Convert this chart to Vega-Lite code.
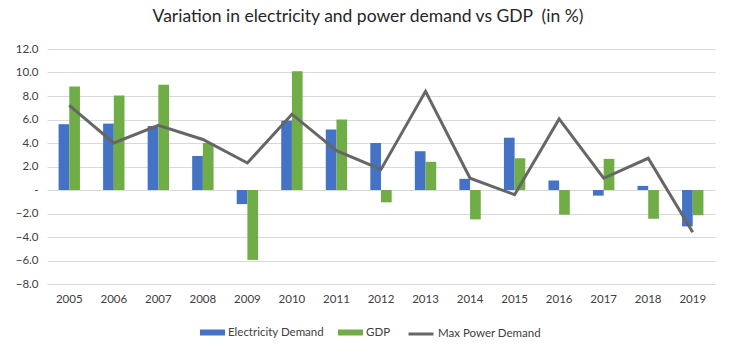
{
  "$schema": "https://vega.github.io/schema/vega-lite/v6.json",
  "width": 668,
  "height": 235,
  "autosize": {"type": "none"},
  "padding": {"left": 47, "top": 49, "right": 15, "bottom": 62},
  "background": "white",
  "title": {
    "text": "Variation in electricity and power demand vs GDP\u00a0 (in %)",
    "font": "Lato",
    "fontSize": 17.5,
    "fontWeight": "normal",
    "color": "#262626",
    "anchor": "middle",
    "dx": -13,
    "offset": 18
  },
  "config": {
    "view": {"stroke": null},
    "axis": {"labelFont": "Lato", "labelFontSize": 11.5, "labelColor": "#404040"},
    "legend": {"labelFont": "Lato", "labelFontSize": 11.5, "labelColor": "#404040"}
  },
  "data": {
    "values": [
      {"year": "2005", "series": "Electricity Demand", "value": 5.6},
      {"year": "2006", "series": "Electricity Demand", "value": 5.65},
      {"year": "2007", "series": "Electricity Demand", "value": 5.45},
      {"year": "2008", "series": "Electricity Demand", "value": 2.9},
      {"year": "2009", "series": "Electricity Demand", "value": -1.2},
      {"year": "2010", "series": "Electricity Demand", "value": 5.9},
      {"year": "2011", "series": "Electricity Demand", "value": 5.15},
      {"year": "2012", "series": "Electricity Demand", "value": 4.0},
      {"year": "2013", "series": "Electricity Demand", "value": 3.3},
      {"year": "2014", "series": "Electricity Demand", "value": 0.95},
      {"year": "2015", "series": "Electricity Demand", "value": 4.45},
      {"year": "2016", "series": "Electricity Demand", "value": 0.8},
      {"year": "2017", "series": "Electricity Demand", "value": -0.48},
      {"year": "2018", "series": "Electricity Demand", "value": 0.35},
      {"year": "2019", "series": "Electricity Demand", "value": -3.1},
      {"year": "2005", "series": "GDP", "value": 8.8},
      {"year": "2006", "series": "GDP", "value": 8.05},
      {"year": "2007", "series": "GDP", "value": 8.95},
      {"year": "2008", "series": "GDP", "value": 4.0},
      {"year": "2009", "series": "GDP", "value": -5.95},
      {"year": "2010", "series": "GDP", "value": 10.1},
      {"year": "2011", "series": "GDP", "value": 6.0},
      {"year": "2012", "series": "GDP", "value": -1.05},
      {"year": "2013", "series": "GDP", "value": 2.4},
      {"year": "2014", "series": "GDP", "value": -2.5},
      {"year": "2015", "series": "GDP", "value": 2.7},
      {"year": "2016", "series": "GDP", "value": -2.1},
      {"year": "2017", "series": "GDP", "value": 2.65},
      {"year": "2018", "series": "GDP", "value": -2.45},
      {"year": "2019", "series": "GDP", "value": -2.15},
      {"year": "2005", "series": "Max Power Demand", "value": 7.2},
      {"year": "2006", "series": "Max Power Demand", "value": 4.0},
      {"year": "2007", "series": "Max Power Demand", "value": 5.5},
      {"year": "2008", "series": "Max Power Demand", "value": 4.3},
      {"year": "2009", "series": "Max Power Demand", "value": 2.3},
      {"year": "2010", "series": "Max Power Demand", "value": 6.45},
      {"year": "2011", "series": "Max Power Demand", "value": 3.35},
      {"year": "2012", "series": "Max Power Demand", "value": 1.75},
      {"year": "2013", "series": "Max Power Demand", "value": 8.4},
      {"year": "2014", "series": "Max Power Demand", "value": 1.0},
      {"year": "2015", "series": "Max Power Demand", "value": -0.4},
      {"year": "2016", "series": "Max Power Demand", "value": 6.05},
      {"year": "2017", "series": "Max Power Demand", "value": 1.0},
      {"year": "2018", "series": "Max Power Demand", "value": 2.7},
      {"year": "2019", "series": "Max Power Demand", "value": -3.6}
    ]
  },
  "encoding": {
    "x": {
      "field": "year",
      "type": "nominal",
      "title": null,
      "scale": {"paddingInner": 0.52, "paddingOuter": 0.26},
      "axis": {"labelAngle": 0, "domain": false, "ticks": false, "labelPadding": 9}
    },
    "y": {
      "field": "value",
      "type": "quantitative",
      "title": null,
      "scale": {"domain": [-8, 12], "nice": false, "zero": false},
      "axis": {
        "values": [-8, -6, -4, -2, 0, 2, 4, 6, 8, 10, 12],
        "labelExpr": "datum.value == 0 ? '-' : format(datum.value, '.1f')",
        "domain": false,
        "ticks": false,
        "gridColor": "#d9d9d9",
        "gridWidth": 1,
        "labelPadding": 9
      }
    }
  },
  "layer": [
    {
      "transform": [{"filter": "datum.series != 'Max Power Demand'"}],
      "mark": {"type": "bar"},
      "encoding": {
        "xOffset": {"field": "series", "type": "nominal", "scale": {"paddingInner": 0, "paddingOuter": 0}},
        "color": {
          "field": "series",
          "type": "nominal",
          "scale": {"domain": ["Electricity Demand", "GDP"], "range": ["#4472C4", "#70AD47"]},
          "legend": {
            "title": null,
            "orient": "none",
            "direction": "horizontal",
            "legendX": 153,
            "legendY": 271,
            "symbolType": "M-1,-0.24H1V0.24H-1Z",
            "symbolSize": 625,
            "symbolStrokeWidth": 0,
            "columnPadding": 14,
            "labelOffset": 3
          }
        }
      }
    },
    {
      "transform": [{"filter": "datum.series == 'Max Power Demand'"}],
      "mark": {"type": "line", "strokeWidth": 3},
      "encoding": {
        "stroke": {
          "field": "series",
          "type": "nominal",
          "scale": {"domain": ["Max Power Demand"], "range": ["#666666"]},
          "legend": {
            "title": null,
            "orient": "none",
            "direction": "horizontal",
            "legendX": 360,
            "legendY": 271,
            "symbolType": "stroke",
            "symbolSize": 625,
            "symbolStrokeWidth": 3,
            "labelOffset": 3
          }
        }
      }
    }
  ]
}
